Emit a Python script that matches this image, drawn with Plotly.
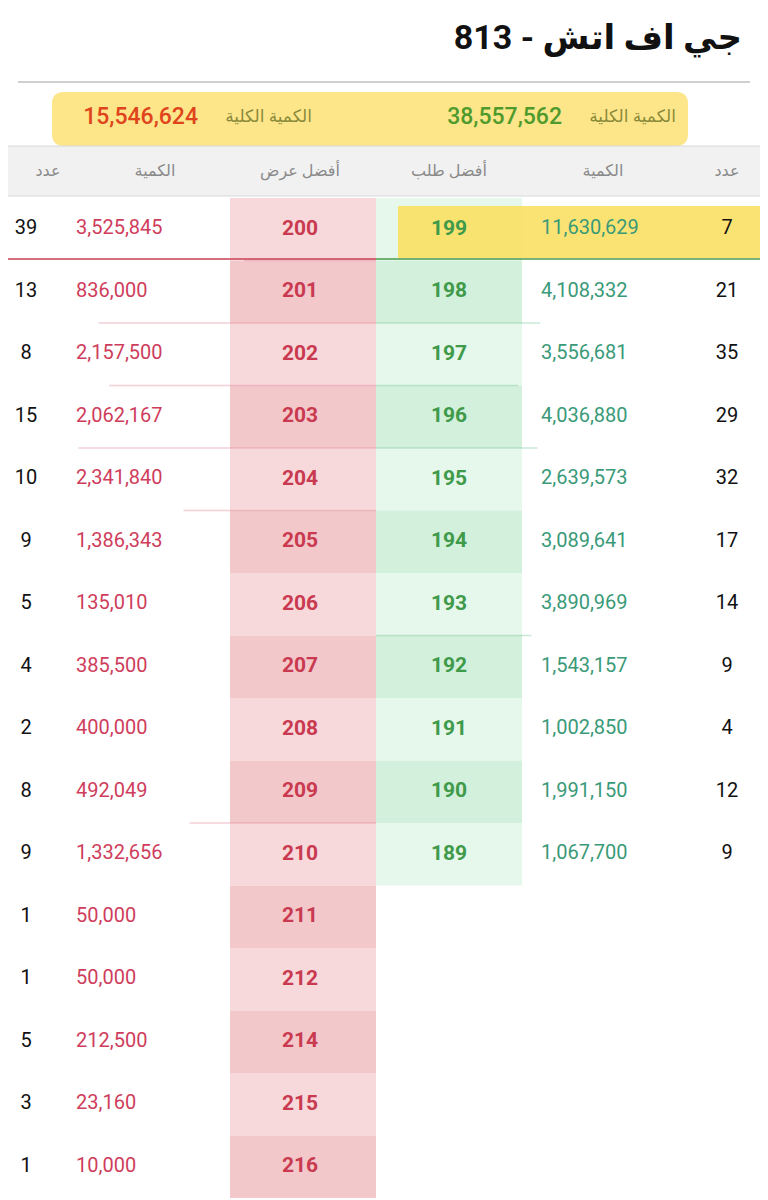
import plotly.graph_objects as go

title = "جي اف اتش - 813"
total_label = "الكمية الكلية"
bid_total = "38,557,562"
ask_total = "15,546,624"
headers = ["عدد", "الكمية", "أفضل طلب", "أفضل عرض", "الكمية", "عدد"]

ask_price = [200, 201, 202, 203, 204, 205, 206, 207, 208, 209, 210, 211, 212, 214, 215, 216]
ask_qty = [3525845, 836000, 2157500, 2062167, 2341840, 1386343, 135010, 385500,
           400000, 492049, 1332656, 50000, 50000, 212500, 23160, 10000]
ask_count = [39, 13, 8, 15, 10, 9, 5, 4, 2, 8, 9, 1, 1, 5, 3, 1]

bid_price = [199, 198, 197, 196, 195, 194, 193, 192, 191, 190, 189]
bid_qty = [11630629, 4108332, 3556681, 4036880, 2639573, 3089641, 3890969,
           1543157, 1002850, 1991150, 1067700]
bid_count = [7, 21, 35, 29, 32, 17, 14, 9, 4, 12, 9]

ROW0, ROWH = 198, 62.5
FONT = "Roboto, DejaVu Sans"
RED, RED2, GREEN, GREEN2 = "#cf3d5c", "#c93a50", "#3f9a4a", "#3a9a78"

def yc(i):
    return ROW0 + ROWH * (i + 0.5)

fig = go.Figure()
shapes = []

# column backgrounds
for i in range(len(ask_price)):
    shapes.append(dict(type="rect", x0=230, x1=376, y0=ROW0 + ROWH * i, y1=ROW0 + ROWH * (i + 1),
                       fillcolor="#f3c8cb" if i % 2 else "#f7d9db", line_width=0, layer="below"))
for i in range(len(bid_price)):
    shapes.append(dict(type="rect", x0=376, x1=522, y0=ROW0 + ROWH * i, y1=ROW0 + ROWH * (i + 1),
                       fillcolor="#d2f0dc" if i % 2 else "#e6f7ec", line_width=0, layer="below"))

# faint depth lines
for i in range(1, len(ask_qty)):
    if ask_qty[i] > 1000000 or i == 1:
        shapes.append(dict(type="line", x0=376 - ask_qty[i] * 0.00011 - 40, x1=376,
                           y0=ROW0 + ROWH * i, y1=ROW0 + ROWH * i,
                           line=dict(color="rgba(220,120,140,0.35)", width=1.5)))
for i in range(1, len(bid_qty)):
    if bid_qty[i] > 3500000:
        shapes.append(dict(type="line", x0=376, x1=376 + bid_qty[i] * 0.00004,
                           y0=ROW0 + ROWH * (i + 1), y1=ROW0 + ROWH * (i + 1),
                           line=dict(color="rgba(120,200,150,0.4)", width=1.5)))

# title separator, totals box, header band
box = "M 64,92 L 676,92 Q 688,92 688,104 L 688,134 Q 688,146 676,146 L 64,146 Q 52,146 52,134 L 52,104 Q 52,92 64,92 Z"
shapes += [
    dict(type="line", x0=18, x1=750, y0=82, y1=82, line=dict(color="#d0d0d0", width=2)),
    dict(type="path", path=box, fillcolor="#fde68a", line_width=0, layer="below"),
    dict(type="rect", x0=-10, x1=780, y0=146, y1=196, fillcolor="#f1f1f1",
         line=dict(color="#d8d8d8", width=1), layer="below"),
    dict(type="rect", x0=398, x1=780, y0=206, y1=258, fillcolor="rgba(250,222,90,0.85)",
         line_width=0, layer="below"),
    dict(type="line", x0=0, x1=376, y0=259, y1=259, line=dict(color="#c94057", width=1.5)),
    dict(type="line", x0=376, x1=780, y0=259, y1=259, line=dict(color="#4a9a4a", width=1.5)),
]

def txt(x, y, t, color, size, anchor="center", bold=False):
    fig.add_trace(go.Scatter(x=x, y=y, text=t, mode="text",
                             textposition="middle " + anchor if anchor != "center" else "middle center",
                             hoverinfo="skip",
                             textfont=dict(color=color, size=size, family=FONT,
                                           weight="bold" if bold else "normal")))

txt([742], [40], [title], "#111", 34, "left", True)
txt([312], [118], [total_label], "#8a8a3a", 17, "left")
txt([198], [118], [ask_total], "#e0441c", 23, "left")
txt([676], [118], [total_label], "#8a8a3a", 17, "left")
txt([562], [118], [bid_total], "#4f9a2c", 23, "left")
txt([48, 155, 300, 449, 603, 727], [172] * 6, headers[::-1], "#8a8a8a", 16)

ays = [yc(i) for i in range(len(ask_price))]
bys = [yc(i) for i in range(len(bid_price))]
txt([26] * len(ays), ays, [str(c) for c in ask_count], "#111", 20)
txt([76] * len(ays), ays, [f"{q:,}" for q in ask_qty], RED, 20, "right")
txt([300] * len(ays), ays, [str(p) for p in ask_price], RED2, 21, bold=True)
txt([449] * len(bys), bys, [str(p) for p in bid_price], GREEN, 21, bold=True)
txt([541] * len(bys), bys, [f"{q:,}" for q in bid_qty], GREEN2, 20, "right")
txt([727] * len(bys), bys, [str(c) for c in bid_count], "#111", 20)

fig.data[0].textfont.weight = "bold"
fig.data[2].textfont.weight = 500
fig.data[4].textfont.weight = 500

# page body has an 8px margin, so shift the ranges to line up with the window
fig.update_layout(width=768, height=1200, margin=dict(l=0, r=0, t=0, b=0),
                  plot_bgcolor="white", paper_bgcolor="white", showlegend=False,
                  shapes=shapes,
                  xaxis=dict(range=[8, 776], visible=False, fixedrange=True),
                  yaxis=dict(range=[1208, 8], visible=False, fixedrange=True))
fig.write_html("out.html")
